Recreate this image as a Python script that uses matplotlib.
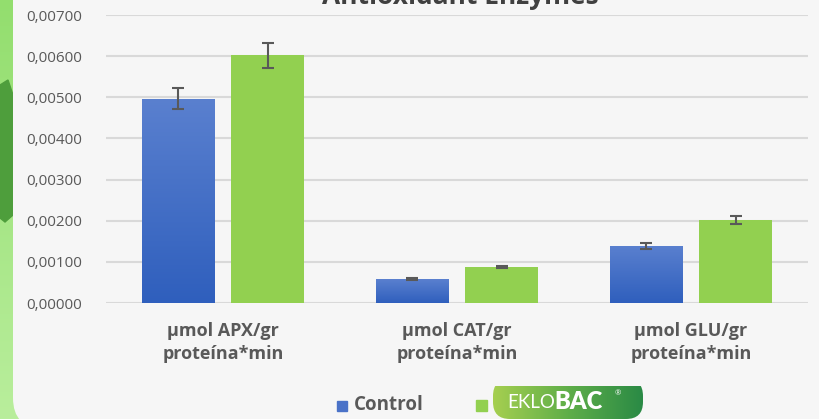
import numpy as np
import matplotlib
matplotlib.use("Agg")
import matplotlib.pyplot as plt
from matplotlib.patches import FancyBboxPatch, Rectangle, Polygon
from matplotlib.colors import LinearSegmentedColormap
from matplotlib.ticker import FuncFormatter

# data
categories = ["µmol APX/gr\nproteína*min", "µmol CAT/gr\nproteína*min", "µmol GLU/gr\nproteína*min"]
series = ["Control", "EKLOBAC"]
control = [0.00497, 0.00058, 0.00139]
control_err = [0.00026, 0.00002, 0.00008]
eklobac = [0.00602, 0.00088, 0.00201]
eklobac_err = [0.00030, 0.00003, 0.00010]
title = "Antioxidant Enzymes"

blue = "#4a72c8"
green = "#92d050"
grey = "#595959"

plt.rcParams['font.family'] = ['Open Sans', 'DejaVu Sans']

fig = plt.figure(figsize=(8.2, 4.19), dpi=100)

# background: green strip + rounded card
bg = fig.add_axes([0, 0, 1, 1], zorder=-5)
bg.axis("off")
gcmap = LinearSegmentedColormap.from_list("g", ["#93de6e", "#a6e686", "#b9ee9c"])
bg.imshow(np.linspace(0, 1, 256).reshape(-1, 1), cmap=gcmap, extent=[0, 40, 419, 0], aspect="auto")
bg.add_patch(Polygon([[0, 85], [8, 80], [13, 95], [13, 215], [5, 222], [0, 218]],
                     closed=True, color="#4e9e3c"))
bg.add_patch(FancyBboxPatch((13, -60), 900, 488, boxstyle="round,pad=0,rounding_size=30",
                            fc="#f6f6f6", ec="none"))
bg.set_xlim(0, 820)
bg.set_ylim(419, 0)

ax = fig.add_axes([106 / 820, 1 - 303 / 419, 702 / 820, 288 / 419])
ax.set_facecolor("none")
x = np.arange(len(categories))
w = 0.31
ekw = dict(ecolor=grey, elinewidth=1.5, capsize=4.5, capthick=1.5, zorder=5)
b1 = ax.bar(x - w / 2 - 0.036, control, w, color=blue, yerr=control_err, error_kw=ekw, zorder=3)
ax.bar(x + w / 2 + 0.036, eklobac, w, color=green, yerr=eklobac_err, error_kw=ekw, zorder=3)

# vertical gradient on the blue bars
bcmap = LinearSegmentedColormap.from_list("b", ["#2f5fbd", "#5a80cf"])
for r in b1:
    r.set_facecolor("none")
    im = ax.imshow(np.linspace(0, 1, 256).reshape(-1, 1), cmap=bcmap, origin="lower",
                   extent=[r.get_x(), r.get_x() + r.get_width(), 0, r.get_height()],
                   aspect="auto", zorder=3)
    im.set_clip_path(r)

ax.set_xlim(-0.5, len(categories) - 0.5)
ax.set_ylim(0, 0.007)
ax.set_yticks(np.arange(0, 0.0071, 0.001))
ax.yaxis.set_major_formatter(FuncFormatter(lambda v, p: f"{v:.5f}".replace(".", ",")))
ax.grid(axis="y", color="#d9d9d9", linewidth=1.5, zorder=0)
for s in ax.spines.values():
    s.set_visible(False)
ax.tick_params(axis="y", length=0, pad=17, labelsize=11, labelcolor=grey)
ax.tick_params(axis="x", length=0, pad=14)
ax.set_xticks(x)
ax.set_xticklabels(categories, fontsize=13, fontweight="bold", color=grey, linespacing=1.35)

fig.text(460 / 820, 1 - 4 / 419, title, ha="center", va="baseline",
         fontsize=19, fontweight="bold", color="#404040")

# legend
fig.patches.append(Rectangle((337 / 820, 1 - 411 / 419), 10 / 820, 10 / 419,
                             transform=fig.transFigure, color=blue))
fig.text(354 / 820, 1 - 405 / 419, series[0], ha="left", va="center",
         fontsize=13.5, fontweight="bold", color=grey)
fig.patches.append(Rectangle((476 / 820, 1 - 411 / 419), 11 / 820, 11 / 419,
                             transform=fig.transFigure, color=green))
logo = fig.add_axes([493 / 820, 0, 150 / 820, 33 / 419], zorder=5)
logo.set_xlim(0, 150)
logo.set_ylim(0, 33)
logo.axis("off")
pill = FancyBboxPatch((0, 0), 150, 40, boxstyle="round,pad=0,rounding_size=17",
                      fc="none", ec="none")
logo.add_patch(pill)
lcmap = LinearSegmentedColormap.from_list("l", ["#a6cf50", "#5fae49", "#2a8a45"])
im = logo.imshow(np.linspace(0, 1, 256).reshape(1, -1), cmap=lcmap,
                 extent=[0, 150, 0, 40], aspect="auto")
im.set_clip_path(pill)
logo.text(14, 17, "EKLO", fontsize=13.5, color="white", fontweight="normal",
          va="center", ha="left", family="Lato")
logo.text(61, 17, series[1][4:], fontsize=17, color="white", fontweight="heavy",
          va="center", ha="left", family="Lato")
logo.text(122, 25, "®", fontsize=5.5, color="white", va="center", ha="left")

fig.savefig("out.png", dpi=100)
